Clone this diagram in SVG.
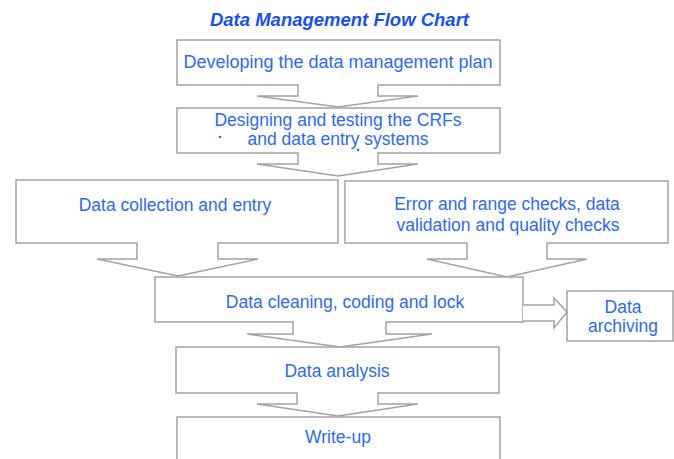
<svg xmlns="http://www.w3.org/2000/svg" width="674" height="459" viewBox="0 0 674 459">
<style>
.shape{fill:#ffffff;stroke:#a3a3a3;stroke-width:1.5;stroke-linejoin:miter}
.t{font-family:"Liberation Sans",Arial,sans-serif;font-size:17.5px;fill:#3268f2;text-anchor:middle}
.title{font-family:"Liberation Sans",Arial,sans-serif;font-size:18.5px;font-weight:bold;font-style:italic;fill:#1a4ff2;text-anchor:middle}
</style>
<rect width="674" height="459" fill="#ffffff"/>
<text class="title" x="339.5" y="26">Data Management Flow Chart</text>
<g id="n1">
<path class="shape" d="M177,40 H500 V85 H378 V96 H418 L338,107 L257,96 H298 V85 H177 Z"/>
<text class="t" x="338" y="68" style="font-size:18px">Developing the data management plan</text>
</g>
<g id="n2">
<path class="shape" d="M177,108 H500 V153 H378 V164 H418 L338,176 L257,164 H298 V153 H177 Z"/>
<text class="t" x="338" y="126">Designing and testing the CRFs</text>
<text class="t" x="338" y="145">and data entry systems</text>
<circle cx="220" cy="137" r="1.3" fill="#3268f2"/>
<circle cx="358" cy="150" r="1.3" fill="#3268f2"/>
</g>
<g id="n3">
<path class="shape" d="M16,180 H338 V243 H218 V259 H258 L178,276 L97,259 H137 V243 H16 Z"/>
<text class="t" x="175" y="211">Data collection and entry</text>
</g>
<g id="n4">
<path class="shape" d="M345,181 H668 V243 H547 V259 H587 L507,277 L427,259 H467 V243 H345 Z"/>
<text class="t" x="507" y="210">Error and range checks, data</text>
<text class="t" x="508" y="231">validation and quality checks</text>
</g>
<g id="n5">
<path class="shape" d="M155,277 H523 V322 H386 V334 H432 L340,347 L247,334 H293 V322 H155 Z"/>
<text class="t" x="345" y="308">Data cleaning, coding and lock</text>
</g>
<g id="n6">
<rect class="shape" x="567" y="291" width="106" height="50"/>
<text class="t" x="623" y="313">Data</text>
<text class="t" x="623" y="332">archiving</text>
</g>
<g id="n7">
<path class="shape" d="M176,347 H499 V393 H378 V404 H418 L338,416 L257,404 H297 V393 H176 Z"/>
<text class="t" x="337" y="377">Data analysis</text>
</g>
<g id="n8">
<path class="shape" d="M177,460 V417 H500 V460"/>
<text class="t" x="338" y="443">Write-up</text>
</g>
<g id="connectors">
<path class="shape" d="M523,305 H554 V298 L567,312 L554,328 V321 H523"/>
</g>
</svg>
